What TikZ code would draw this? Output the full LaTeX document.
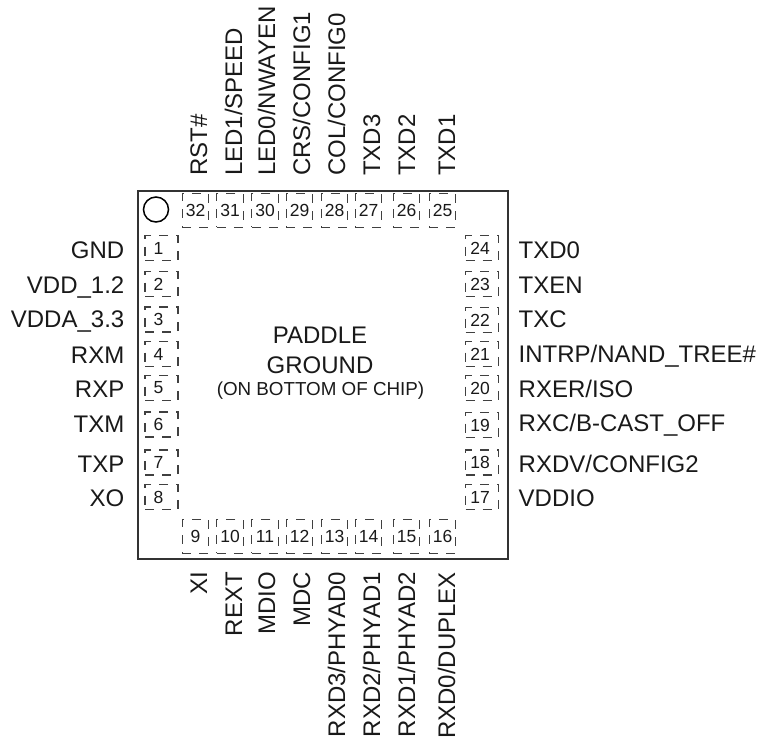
\documentclass[tikz,border=0pt]{standalone}
\usepackage{fontspec}
\setmainfont{Liberation Sans}
\tikzset{
  chipbody/.style={draw=black!80,line width=2.2pt,minimum width=369.5pt,minimum height=368.5pt,inner sep=0pt,anchor=north west},
  pinbox/.style={draw=black!75,line width=1.1pt,dash pattern=on 9pt off 8pt,inner sep=0pt,font=\fontsize{17.5}{17.5}\selectfont,text=black!90},
  hpin/.style={pinbox,minimum width=33pt,minimum height=25pt},
  vpin/.style={pinbox,minimum width=26.5pt,minimum height=33.5pt},
  lbl/.style={font=\fontsize{24}{24}\selectfont,text=black!90,inner sep=0pt},
  lleft/.style={lbl,anchor=base east},
  lright/.style={lbl,anchor=base west},
  ltop/.style={lbl,anchor=base west,rotate=90},
  lbot/.style={lbl,anchor=base east,rotate=90},
}
\begin{document}
\begin{tikzpicture}[x=1pt,y=-1pt]
\useasboundingbox (0,0) rectangle (759,740);
\node[chipbody] (chip) at (137,189.5) {};
\node[circle,draw=black,line width=1.5pt,minimum size=25pt,inner sep=0pt] (dot) at (156,209.5) {};
% left side
\foreach \n/\y/\b/\t in {1/248/258/GND,2/284/293/VDD\_1.2,3/319.5/327/VDDA\_3.3,4/354/363/RXM,5/388/397/RXP,6/424.5/432/TXM,7/462.5/472/TXP,8/497/506/XO}{
  \node[hpin] (p\n) at (161.5,\y) {\raisebox{-1.5pt}{\n}\kern6pt};
  \node[lleft] (t\n) at (124.5,\b) {\t};
}
% right side
\foreach \n/\y in {24/248,23/284,22/320,21/354,20/388,19/425,18/462.5,17/497}{
  \node[hpin] (p\n) at (482,\y) {\raisebox{-1.5pt}{\n}\kern4pt};
}
\node[lright] (t24) at (518.5,258) {TXD0};
\node[lright] (t23) at (518.5,293) {TXEN};
\node[lright] (t22) at (518.5,327) {TXC};
\node[lright] (t21) at (518.5,362) {INTRP/NAND\_TREE\#};
\node[lright] (t20) at (518.5,397) {RXER/ISO};
\node[lright] (t19) at (518.5,431) {RXC/B-CAST\_OFF};
\node[lright] (t18) at (518.5,472) {RXDV/CONFIG2};
\node[lright] (t17) at (518.5,506) {VDDIO};
% top side
\foreach \n/\x in {32/195.5,31/230,30/265,29/299.5,28/334.5,27/368.5,26/406.5,25/442.5}{
  \node[vpin] (p\n) at (\x,210.5) {\raisebox{-2pt}{\n}};
}
\node[ltop] (t32) at (207,176) {RST\#};
\node[ltop] (t31) at (242,176) {LED1/SPEED};
\node[ltop] (t30) at (275,176) {LED0/NWAYEN};
\node[ltop] (t29) at (310,176) {CRS/CONFIG1};
\node[ltop] (t28) at (345,176) {COL/CONFIG0};
\node[ltop] (t27) at (380,176) {TXD3};
\node[ltop] (t26) at (415,176) {TXD2};
\node[ltop] (t25) at (455,176) {TXD1};
% bottom side
\foreach \n/\x in {9/195.5,10/230,11/265,12/299.5,13/334.5,14/368.5,15/406.5,16/442.5}{
  \node[vpin] (p\n) at (\x,536.5) {\n};
}
\node[lbot] (t9) at (207,572) {XI};
\node[lbot] (t10) at (242,572) {REXT};
\node[lbot] (t11) at (275,572) {MDIO};
\node[lbot] (t12) at (310,572) {MDC};
\node[lbot] (t13) at (345,572) {RXD3/PHYAD0};
\node[lbot] (t14) at (380,572) {RXD2/PHYAD1};
\node[lbot] (t15) at (415,572) {RXD1/PHYAD2};
\node[lbot] (t16) at (455,572) {RXD0/DUPLEX};
% centre
\node[lbl,anchor=base] (pa) at (320,343) {PADDLE};
\node[lbl,anchor=base] (pb) at (320,373) {GROUND};
\node[lbl,anchor=base,font=\fontsize{18.8}{19}\selectfont] (pc) at (320.5,395) {(ON BOTTOM OF CHIP)};
\end{tikzpicture}
\end{document}
